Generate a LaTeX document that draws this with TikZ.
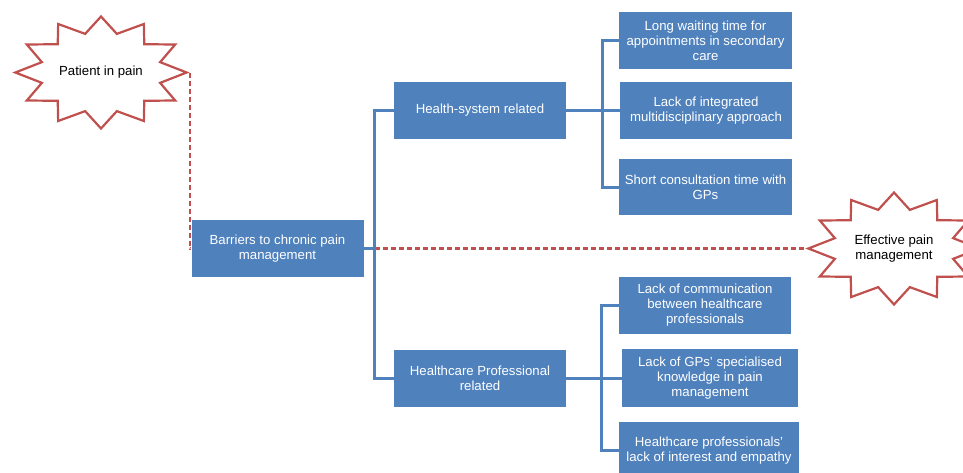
\documentclass[tikz,border=0pt]{standalone}
\usepackage{fontspec}
\setmainfont{Liberation Sans}
\usetikzlibrary{shapes.geometric}
\usetikzlibrary{calc}
\definecolor{boxblue}{HTML}{4F81BD}
\definecolor{painred}{HTML}{C0504D}
\tikzstyle{barrier}=[rectangle,fill=boxblue,text=white,align=center,font=\fontsize{13.2}{15}\selectfont,minimum width=172pt,minimum height=57pt,inner sep=2pt]
\tikzstyle{painstar}=[star,star points=12,star point ratio=1.4,draw=painred,line width=2.2pt,fill=white,minimum size=112pt,inner sep=0pt,xscale=1.53,transform shape]
\tikzstyle{startext}=[align=center,font=\fontsize{13.2}{15}\selectfont]
\tikzstyle{branch}=[draw=boxblue,line width=3pt]
\tikzstyle{pathway}=[draw=painred,line width=2.8pt,dash pattern=on 5pt off 3pt]

\begin{document}
\begin{tikzpicture}[x=1pt,y=-1pt]
    \useasboundingbox (0,0) rectangle (963,472);

    % the two ends of the pathway
    \node [painstar] (patient) at (101,72.5) {};
    \node [startext] (patienttext) at (patient) {Patient in pain};
    \node [painstar] (effective) at (894,248.5) {};
    \node [startext] (effectivetext) at (effective) {Effective pain\\management};

    % barriers and their two groups
    \node [barrier] (barriers) at (277.5,248.5) {Barriers to chronic pain\\management};
    \node [barrier] (health) at (480,110) {Health-system related};
    \node [barrier] (hcp) at (480,378) {Healthcare Professional\\related};

    \node [barrier,minimum width=173pt] (wait) at (705.5,40.5) {Long waiting time for\\appointments in secondary\\care};
    \node [barrier] (integ) at (706,110.5) {Lack of integrated\\multidisciplinary approach};
    \node [barrier,minimum width=173pt,minimum height=56pt] (short) at (705.5,187) {Short consultation time with\\GPs};

    \node [barrier] (comm) at (705,305.5) {Lack of communication\\between healthcare\\professionals};
    \node [barrier,minimum width=176pt,minimum height=58pt] (gps) at (710,378) {Lack of GPs' specialised\\knowledge in pain\\management};
    \node [barrier,minimum width=180pt] (empathy) at (709,450.5) {Healthcare professionals'\\lack of interest and empathy};

    \draw [pathway] (patient.east) |- (barriers.west);
    \coordinate (trunk) at ($(barriers.east)+(11,0)$);
    \draw [pathway] (trunk) -- (effective.west);

    \draw [branch] (barriers.east) -- (trunk);
    \draw [branch] (health.west) -| (trunk) |- (hcp.west);

    \draw [branch] (health.east) -- ++(36,0) coordinate (hsbar);
    \draw [branch] (wait.west) -| (hsbar) |- (short.west);
    \draw [branch] (hsbar) -- (hsbar -| integ.west);

    \draw [branch] (hcp.east) -- ++(35,0) coordinate (hcpbar);
    \draw [branch] (comm.west) -| (hcpbar) |- (empathy.west);
    \draw [branch] (hcpbar) -- (hcpbar -| gps.west);
\end{tikzpicture}
\end{document}
